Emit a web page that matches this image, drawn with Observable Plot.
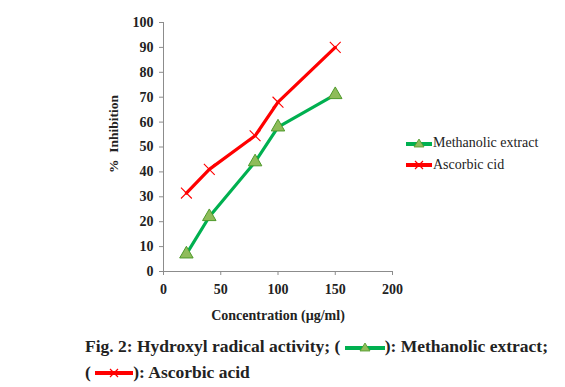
<!DOCTYPE html>
<html>
<head>
<meta charset="utf-8">
<script src="https://cdn.jsdelivr.net/npm/d3@7"></script>
<script src="https://cdn.jsdelivr.net/npm/@observablehq/plot@0.6"></script>
<style>
  html, body { margin: 0; padding: 0; background: #fff; }
  #wrap { position: relative; width: 565px; height: 387px; font-family: "Liberation Serif", "Times New Roman", serif; }
  #legend { position: absolute; left: 406px; top: 132px; font-size: 14px; color: #222; }
  #legend div { display: flex; align-items: center; height: 22px; }
  #legend svg { margin-right: 1px; }
  #caption { position: absolute; left: 85px; top: 333px; font-size: 17.5px; font-weight: bold; color: #222; line-height: 26px; white-space: nowrap; }
  #caption svg { vertical-align: -2px; }
</style>
</head>
<body>
<div id="wrap">
  <div id="chart"></div>
  <div id="legend"></div>
  <div id="caption"></div>
</div>
<script>
const concentrations = [20, 40, 80, 100, 150];
const methanolic = [7, 22, 44, 58, 71];
const ascorbic = [31.5, 41, 54.5, 68, 90];
const seriesNames = ["Methanolic extract", "Ascorbic cid"];
const xTicks = [0, 50, 100, 150, 200];
const yTicks = [0, 10, 20, 30, 40, 50, 60, 70, 80, 90, 100];

const mData = concentrations.map((c, i) => ({x: c, y: methanolic[i]}));
const aData = concentrations.map((c, i) => ({x: c, y: ascorbic[i]}));

const axisColor = "#8c8c8c";
const green = "#00b050";
const triFill = "#8fbc5a";
const triStroke = "#4e9a2a";
const red = "#ff0000";

const plot = Plot.plot({
  width: 565,
  height: 330,
  marginLeft: 163,
  marginRight: 173,
  marginTop: 22,
  marginBottom: 59,
  style: {fontFamily: "'Liberation Serif', 'Times New Roman', serif", fontSize: "14px", fontWeight: "bold", color: "#222", background: "white"},
  x: {domain: [0, 200], ticks: xTicks, label: null},
  y: {domain: [0, 100], ticks: yTicks, label: null},
  marks: [
    Plot.ruleX([0], {stroke: axisColor}),
    Plot.ruleY([0], {stroke: axisColor}),
    Plot.axisX({ticks: xTicks, tickSize: 4, tickPadding: 9, stroke: axisColor, fontSize: 14, fontWeight: "bold", fill: "#222"}),
    Plot.axisY({ticks: yTicks, tickSize: 4, tickPadding: 6, stroke: axisColor, fontSize: 14, fontWeight: "bold", fill: "#222"}),
    Plot.text(["Concentration (µg/ml)"], {frameAnchor: "bottom", dy: 48, fontSize: 14, fontWeight: "bold", fill: "#222"}),
    Plot.text(["%  Inhibition"], {frameAnchor: "left", textAnchor: "middle", dx: -50, dy: -13, rotate: -90, fontSize: 13.5, fontWeight: "bold", fill: "#222"}),
    Plot.line(mData, {x: "x", y: "y", stroke: green, strokeWidth: 3.2}),
    Plot.line(aData, {x: "x", y: "y", stroke: red, strokeWidth: 3.2}),
    Plot.dot(mData, {x: "x", y: "y", symbol: "triangle", r: 5, fill: triFill, stroke: triStroke, strokeWidth: 1}),
    Plot.dot(aData, {x: "x", y: "y", symbol: "times", r: 5, stroke: red, strokeWidth: 1.1})
  ]
});
document.getElementById("chart").appendChild(plot);

function greenIcon(w) {
  return `<svg width="${w}" height="14" viewBox="0 0 ${w} 14"><line x1="0" y1="8" x2="${w}" y2="8" stroke="${green}" stroke-width="4"/><path d="M${w/2-5},11 L${w/2},3 L${w/2+5},11 Z" fill="${triFill}" stroke="${triStroke}" stroke-width="0.8"/></svg>`;
}
function redIcon(w) {
  return `<svg width="${w}" height="14" viewBox="0 0 ${w} 14"><line x1="0" y1="7" x2="${w}" y2="7" stroke="${red}" stroke-width="4"/><path d="M${w/2-4},3 L${w/2+4},11 M${w/2-4},11 L${w/2+4},3" stroke="${red}" stroke-width="1.2"/></svg>`;
}
document.getElementById("legend").innerHTML =
  `<div>${greenIcon(26)}<span>${seriesNames[0]}</span></div>` +
  `<div>${redIcon(26)}<span>${seriesNames[1]}</span></div>`;

document.getElementById("caption").innerHTML =
  `Fig. 2: Hydroxyl radical activity; ( ${greenIcon(40)}): Methanolic extract;<br>( ${redIcon(38)}): Ascorbic acid`;
</script>
</body>
</html>
